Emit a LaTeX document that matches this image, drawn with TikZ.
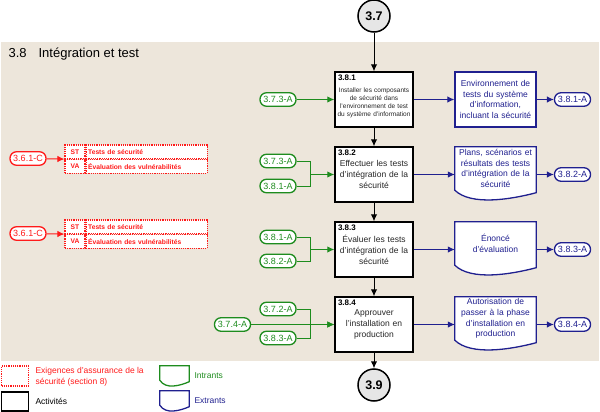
\documentclass[tikz,border=0pt]{standalone}
\usepackage{fontspec}
\setmainfont{Liberation Sans}
\usetikzlibrary{calc}
\usetikzlibrary{arrows.meta}
\usetikzlibrary{positioning}
\usetikzlibrary{backgrounds}
\definecolor{PanelBeige}{HTML}{EDE6DB}
\definecolor{InGreen}{HTML}{1E8C1E}
\definecolor{OutBlue}{HTML}{20208F}
\definecolor{ReqRed}{HTML}{FF1A1A}
\definecolor{PhaseGray}{HTML}{E6E6E6}
\pgfdeclarelayer{docfill}
\pgfsetlayers{background,docfill,main}
\newcommand{\fsTitle}{\fontsize{13}{15}\selectfont}
\newcommand{\fsPhase}{\fontsize{12.5}{14}\selectfont\bfseries}
\newcommand{\fsNum}{\fontsize{8}{9}\selectfont\bfseries}
\newcommand{\fsBody}{\fontsize{8.5}{11}\selectfont}
\newcommand{\fsSmall}{\fontsize{6.5}{8}\selectfont}
\newcommand{\fsOut}{\fontsize{8.5}{10.7}\selectfont}
\newcommand{\fsPill}{\fontsize{9}{10}\selectfont}
\newcommand{\fsReq}{\fontsize{6.7}{8}\selectfont\bfseries}
\newcommand{\fsLeg}{\fontsize{8.5}{10.5}\selectfont}
\newcommand{\docwave}[3]{%
  \begin{pgfonlayer}{docfill}
    \draw[#2, line width=1.3pt, fill=white]
      (#1.south east) -- (#1.north east) -- (#1.north west) -- (#1.south west)
      .. controls ($(#1.south west)!0.2!(#1.south east)+(0,#3*1.6)$)
      and ($(#1.south west)!0.7!(#1.south east)+(0,#3*0.9)$)
      .. ($(#1.south east)+(0,#3*0.25)$) -- cycle;
  \end{pgfonlayer}}

\begin{document}
\begin{tikzpicture}[x=1pt, y=-1pt,
    activity/.style={draw, fill=white, line width=1.4pt, minimum height=55pt,
      text width=76pt, inner sep=1pt, align=center, text=black!85, font=\fsBody},
    phase/.style={circle, draw, fill=PhaseGray, line width=1.5pt,
      minimum size=32pt, inner sep=0pt, font=\fsPhase},
    boxnum/.style={anchor=north west, inner sep=3.5pt, font=\fsNum},
    pill/.style={draw, fill=white, rounded corners=6.5pt, line width=1.3pt,
      minimum width=36pt, minimum height=13.5pt, inner sep=0pt, font=\fsPill},
    inpill/.style={pill, draw=InGreen, text=InGreen},
    outpill/.style={pill, draw=OutBlue, text=OutBlue},
    reqpill/.style={pill, draw=ReqRed, text=ReqRed},
    outdoc/.style={text width=79pt, inner sep=1pt, align=center,
      text=OutBlue, font=\fsOut},
    reqcell/.style={draw=ReqRed, densely dotted, line width=1.2pt, fill=white,
      minimum height=13.5pt, inner sep=0pt, text=ReqRed, font=\fsReq},
    flow/.style={-{Latex[length=7pt,width=6.5pt]}, line width=1pt},
    inflow/.style={flow, InGreen},
    outflow/.style={flow, OutBlue},
    reqflow/.style={flow, ReqRed}]
  \useasboundingbox (0,0) rectangle (600,412);
  \begin{scope}[on background layer]
    \fill[PanelBeige] (1,42) rectangle (599,361);
  \end{scope}

  \node[anchor=base west, font=\fsTitle] (title) at (5,57.5)
    {3.8\hspace{12pt}Intégration et test};

  \node[phase] (c37) at (374,16) {3.7};
  \node[activity, font=\fsSmall, label={[boxnum]north west:3.8.1}] (b1) at (374,99.5)
    {\rule{0pt}{12pt}Installer les composants\\de sécurité dans\\l'environnement de test\\du système d'information};
  \node[activity, label={[boxnum]north west:3.8.2}] (b2) at (374,174.5)
    {Effectuer les tests\\d'intégration de la\\sécurité};
  \node[activity, label={[boxnum]north west:3.8.3}] (b3) at (374,249.5)
    {Évaluer les tests\\d'intégration de la\\sécurité};
  \node[activity, label={[boxnum]north west:3.8.4}] (b4) at (374,324.5)
    {Approuver\\l'installation en\\production};
  \node[phase] (c39) at (374,385) {3.9};

  \foreach \from/\to in {c37/b1,b1/b2,b2/b3,b3/b4,b4/c39}
    \draw[flow] (\from) -- (\to);

  \node[inpill] (i1) at (278,99.5) {3.7.3-A};
  \node[inpill] (i2a) at (278,161) {3.7.3-A};
  \node[inpill] (i2b) at (278,186) {3.8.1-A};
  \node[inpill] (i3a) at (278,237) {3.8.1-A};
  \node[inpill] (i3b) at (278,261) {3.8.2-A};
  \node[inpill] (i4a) at (278,309) {3.7.2-A};
  \node[inpill] (i4b) at (278,338) {3.8.3-A};
  \node[inpill] (i4c) at (232.5,324.5) {3.7.4-A};

  \draw[inflow] (i1) -- (b1);
  \foreach \n in {2,3,4}{%
    \coordinate (j\n) at ([xshift=-24pt]b\n.west);
    \draw[InGreen, line width=1pt] (i\n a.east) -| (j\n) |- (i\n b.east);
    \draw[inflow] (j\n) -- (b\n.west);
  }
  \draw[inflow] (i4c) -- (b4);

  \node[outdoc, minimum height=55pt, draw=OutBlue, fill=white, line width=1.3pt]
    (o1) at (495.5,99.5) {Environnement de\\tests du système\\d'information,\\incluant la sécurité};
  \node[outdoc, minimum height=43pt] (o2) at (495.5,168.5)
    {Plans, scénarios et\\résultats des tests\\d'intégration de la\\sécurité};
  \node[outdoc, minimum height=43pt] (o3) at (495.5,243.5)
    {Énoncé\\d'évaluation};
  \node[outdoc, minimum height=43pt] (o4) at (495.5,318.5)
    {Autorisation de\\passer à la phase\\d'installation en\\production};
  \foreach \n in {2,3,4}
    \docwave{o\n}{OutBlue}{10};

  \node[outpill] (p1) at (572.5,99.5) {3.8.1-A};
  \node[outpill] (p2) at (572.5,174.5) {3.8.2-A};
  \node[outpill] (p3) at (572.5,249.5) {3.8.3-A};
  \node[outpill] (p4) at (572.5,324.5) {3.8.4-A};

  \draw[outflow] (b1) -- (o1);
  \draw[outflow] (o1) -- (p1);
  \foreach \n in {2,3,4}{%
    \draw[outflow] (b\n.east) -- (b\n.east -| o\n.west);
    \draw[outflow] (b\n.east -| o\n.east) -- (p\n);
  }

  \foreach \n/\y/\ry in {1/151.75/158.5, 2/226.75/233.5}{%
    \node[reqpill] (r\n) at (28,\ry) {3.6.1-C};
    \node[reqcell, text width=20pt, align=center] (st\n) at (75,\y) {ST};
    \node[reqcell, text width=117pt, inner xsep=2pt, align=left, right=0pt of st\n]
      (stt\n) {Tests de sécurité};
    \node[reqcell, text width=20pt, align=center, below=0pt of st\n] (va\n) {VA};
    \node[reqcell, text width=117pt, inner xsep=2pt, align=left, right=0pt of va\n]
      (vat\n) {Évaluation des vulnérabilités};
    \draw[reqflow] (r\n) -- (st\n.south west);
  }

  % legende
  \node[reqcell, minimum width=27pt, minimum height=20pt] (lgreq) at (15,376) {};
  \node[anchor=west, align=left, text=ReqRed, font=\fsLeg] (lgreqt) at (32,377)
    {Exigences d'assurance de la\\sécurité (section 8)};
  \node[draw, fill=white, line width=1.4pt, minimum width=27pt, minimum height=19pt]
    (lgact) at (15,401.5) {};
  \node[anchor=west, font=\fsLeg] (lgactt) at (32,401) {Activités};
  \node[minimum width=29pt, minimum height=14pt, inner sep=0pt] (lgin) at (174.5,373) {};
  \docwave{lgin}{InGreen}{6}
  \node[anchor=west, text=InGreen, font=\fsLeg] (lgint) at (191,376) {Intrants};
  \node[minimum width=29pt, minimum height=14pt, inner sep=0pt] (lgout) at (174.5,398) {};
  \docwave{lgout}{OutBlue}{6}
  \node[anchor=west, text=OutBlue, font=\fsLeg] (lgoutt) at (191,401) {Extrants};
\end{tikzpicture}
\end{document}
